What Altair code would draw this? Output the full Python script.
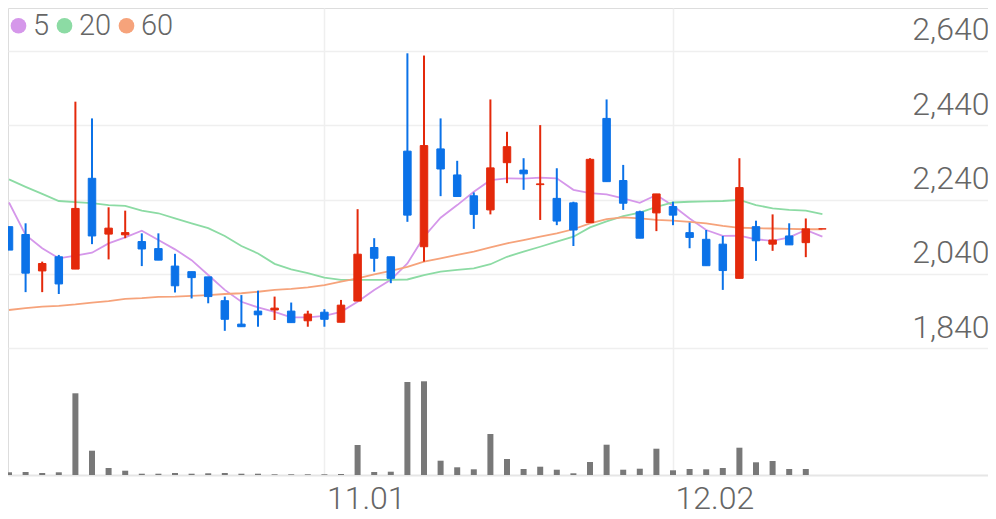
import altair as alt
import pandas as pd

# ---- data (daily candles, index 0..49) ----
opens = [2167, 2146, 2048, 2086, 2053, 2297, 2147, 2145, 2127, 2108,
         2061, 2046, 2032, 1968, 1905, 1940, 1943, 1940, 1914, 1937,
         1910, 1967, 2111, 2086, 2370, 2113, 2376, 2306, 2250, 2212,
         2339, 2319, 2280, 2243, 2231, 2178, 2458, 2291, 2207, 2204,
         2221, 2151, 2133, 2120, 2028, 2167, 2120, 2142, 2124, 2161]
highs = [2167, 2176, 2073, 2091, 2503, 2458, 2219, 2210, 2149, 2149,
         2094, 2046, 2032, 1979, 1983, 1995, 1979, 1963, 1941, 1945,
         1970, 2214, 2136, 2086, 2633, 2627, 2458, 2344, 2259, 2509,
         2422, 2351, 2440, 2324, 2234, 2351, 2509, 2333, 2210, 2255,
         2234, 2178, 2158, 2142, 2351, 2183, 2200, 2176, 2189, 2161]
lows = [2104, 1991, 1991, 1986, 2053, 2120, 2079, 2136, 2061, 2077,
        1990, 1974, 1961, 1887, 1898, 1898, 1916, 1909, 1898, 1898,
        1910, 1967, 2046, 2015, 2180, 2073, 2249, 2248, 2161, 2200,
        2284, 2266, 2185, 2171, 2115, 2178, 2288, 2212, 2136, 2155,
        2171, 2109, 2062, 1997, 2028, 2075, 2102, 2118, 2085, 2161]
closes = [2104, 2042, 2068, 2013, 2216, 2142, 2163, 2151, 2107, 2077,
          2008, 2030, 1979, 1918, 1898, 1930, 1948, 1909, 1932, 1918,
          1956, 2093, 2082, 2028, 2198, 2385, 2322, 2248, 2200, 2325,
          2382, 2309, 2282, 2182, 2158, 2348, 2288, 2230, 2136, 2255,
          2198, 2138, 2062, 2049, 2272, 2129, 2131, 2118, 2161, 2161]
volumes = [27, 30, 20, 27, 817, 243, 70, 43, 13, 13,
           20, 13, 17, 20, 13, 13, 7, 7, 7, 7,
           10, 300, 30, 33, 930, 937, 143, 77, 57, 410,
           160, 60, 83, 53, 17, 130, 303, 53, 63, 263,
           47, 60, 57, 70, 273, 127, 140, 60, 60, 0]
ma5 = [2232, 2145, 2109, 2082, 2089, 2097, 2122, 2138, 2156, 2131,
       2106, 2077, 2037, 1997, 1965, 1950, 1938, 1923, 1923, 1927,
       1938, 1965, 1997, 2024, 2068, 2140, 2191, 2225, 2261, 2292,
       2297, 2296, 2299, 2297, 2266, 2257, 2254, 2243, 2231, 2252,
       2223, 2189, 2158, 2142, 2143, 2133, 2129, 2138, 2158, 2140]
ma20 = [2294, 2274, 2255, 2236, 2233, 2230, 2225, 2223, 2210, 2203,
        2189, 2176, 2163, 2142, 2115, 2095, 2067, 2052, 2042, 2030,
        2024, 2024, 2024, 2024, 2025, 2037, 2046, 2051, 2055, 2066,
        2086, 2100, 2113, 2127, 2140, 2165, 2181, 2195, 2205, 2220,
        2232, 2234, 2235, 2236, 2239, 2225, 2216, 2212, 2210, 2201]
ma60 = [1943, 1948, 1952, 1954, 1958, 1963, 1967, 1973, 1975, 1978,
        1979, 1981, 1983, 1986, 1988, 1992, 1997, 2000, 2004, 2010,
        2019, 2028, 2039, 2048, 2059, 2073, 2082, 2091, 2100, 2111,
        2122, 2131, 2140, 2149, 2160, 2176, 2187, 2192, 2189, 2185,
        2183, 2180, 2176, 2169, 2164, 2163, 2162, 2161, 2160, 2160]

price_ticks = [1840, 2040, 2240, 2440, 2640]
date_tick_index = [19, 40]
date_tick_labels = ["11.01", "12.02"]
ma_names = ["5", "20", "60"]
ma_colors = ["#d597ea", "#8cdba4", "#f6a37b"]

RED = "#e4290b"
BLUE = "#0b72e8"
VOL = "#787878"
GRID = "#efefef"
TEXT = "#666666"

n = len(closes)
idx = list(range(n))
candles = pd.DataFrame({"i": idx, "open": opens, "high": highs, "low": lows,
                        "close": closes, "volume": volumes})
ma_df = pd.concat([
    pd.DataFrame({"i": idx, "ma": name, "value": vals})
    for name, vals in zip(ma_names, [ma5, ma20, ma60])
])

label_expr = " : ".join(
    f"datum.value == {v} ? '{t}'" for v, t in zip(date_tick_index, date_tick_labels)
) + " : ''"

W, H = 980, 467
xscale = alt.Scale(domain=[-0.0602, 58.976], nice=False, zero=False, padding=0)
xaxis = alt.Axis(values=date_tick_index, labelExpr=label_expr, grid=True,
                 gridColor=GRID, gridWidth=1.5, ticks=False, domainColor="#e6e6e6",
                 domainWidth=2, labelAlign="left", labelBaseline="top",
                 labelPadding=8, labelOffset=2, labelFontSize=32, labelColor=TEXT,
                 labelFont="Roboto", labelFontWeight=300, labelFlush=False, title=None)
X = alt.X("i:Q", scale=xscale, axis=xaxis)

pscale = alt.Scale(domain=[1499.4, 2754.8], nice=False, zero=False, padding=0)
paxis = alt.Axis(orient="right", values=price_ticks, format=",d", grid=True,
                 gridColor=GRID, gridWidth=1.5, ticks=False, domain=False,
                 labelAlign="right", labelBaseline="alphabetic", labelOffset=-11,
                 labelPadding=1, labelFontSize=32, labelColor=TEXT, labelFont="Roboto",
                 labelFontWeight=300, title=None)

up = alt.datum.close >= alt.datum.open
col = alt.condition(up, alt.value(RED), alt.value(BLUE))
ma_scale = alt.Scale(domain=ma_names, range=ma_colors)

legend = alt.Legend(title=None, orient="none", legendX=-4, legendY=3,
                    direction="horizontal", symbolType="circle", symbolSize=246,
                    symbolStrokeWidth=0, symbolOpacity=1, labelFontSize=29,
                    labelColor=TEXT, labelFont="Roboto", labelFontWeight=300,
                    labelOffset=0, columnPadding=0, padding=0)

# filled key dots for the legend (drawn with zero size on the chart itself)
keys = alt.Chart(ma_df).mark_circle(size=0, opacity=1).encode(
    x=X,
    y=alt.Y("value:Q", scale=pscale, axis=paxis),
    fill=alt.Fill("ma:N", scale=ma_scale, sort=ma_names, legend=legend),
)
lines = alt.Chart(ma_df).mark_line().encode(
    x=X,
    y=alt.Y("value:Q", scale=pscale, axis=paxis),
    stroke=alt.Stroke("ma:N", scale=ma_scale, sort=ma_names, legend=None),
    strokeWidth=alt.value(1.8),
)
wicks = alt.Chart(candles).mark_rule(strokeWidth=2).encode(
    x=X,
    y=alt.Y("low:Q", scale=pscale, axis=paxis),
    y2="high:Q",
    color=col,
)
bodies = alt.Chart(candles).mark_bar(size=7.5, strokeWidth=1).encode(
    x=X,
    y=alt.Y("open:Q", scale=pscale, axis=paxis),
    y2="close:Q",
    fill=col,
    stroke=col,
)
vol = alt.Chart(candles).mark_bar(size=6, color=VOL).encode(
    x=X,
    y=alt.Y("volume:Q", scale=alt.Scale(domain=[0, 4670], nice=False, padding=0),
            axis=None),
)

price = alt.layer(keys, lines, wicks, bodies)
chart = alt.layer(price, vol).resolve_scale(y="independent").properties(
    width=W, height=H,
    autosize=alt.AutoSizeParams(type="none"),
    padding={"left": 0, "top": 0, "right": 0, "bottom": 36},
    background="white",
).configure_view(stroke=None).configure(font="Roboto")

chart.save("out.html", embed_options={"renderer": "svg", "actions": False})
